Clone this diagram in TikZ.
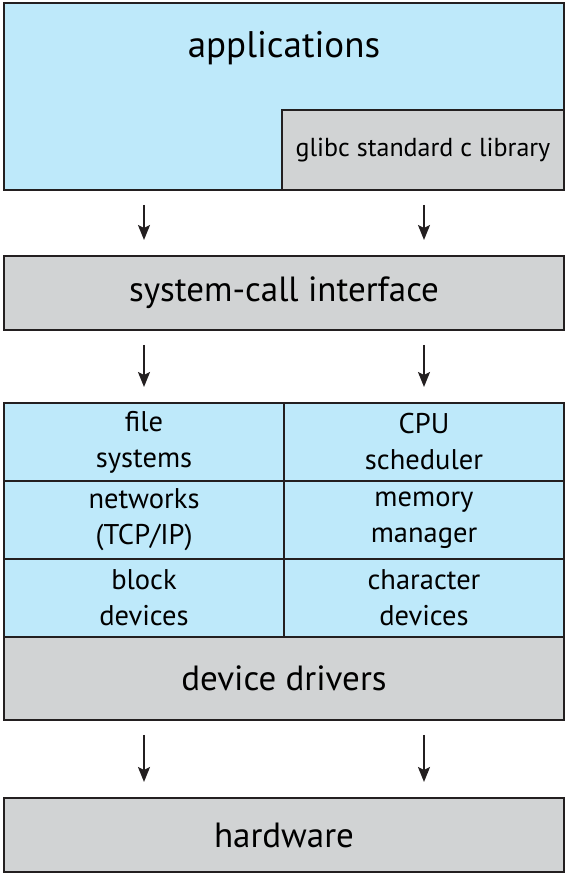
\documentclass[tikz,border=0pt]{standalone}
\usepackage{fontspec}
\setmainfont{PT Sans}
\usetikzlibrary{positioning,calc,arrows.meta}
\definecolor{kblue}{RGB}{190,233,250}
\definecolor{kgray}{RGB}{209,211,212}
\definecolor{kline}{RGB}{35,31,32}

\begin{document}
\begin{tikzpicture}[x = 1pt, y = 1pt, line width = 1.8pt,
  layer/.style = {draw = kline, outer sep = 0pt, inner sep = 0pt, minimum width = 560pt},
  user/.style = {layer, fill = kblue},
  sys/.style = {layer, fill = kgray, font = \fontsize{35}{40}\selectfont},
  cell/.style = {draw = kline, fill = kblue, outer sep = 0pt, minimum width = 280pt, minimum height = 78pt, align = center, font = \fontsize{28.5}{36}\selectfont},
  down/.style = {-{Stealth[length = 15pt, width = 12pt, inset = 3pt]}, draw = kline, line width = 2pt, shorten <= 15pt, shorten >= 16pt}]
\useasboundingbox (0,0) rectangle (568,876);

\node[user, minimum height = 187pt] (app) at (284,779.5) {};
\node[draw = kline, fill = kgray, outer sep = 0pt, minimum width = 282pt, minimum height = 80pt, anchor = south east, font = \fontsize{26}{30}\selectfont] (glibc) at (app.south east) {glibc standard c library};
\node[font = \fontsize{37}{42}\selectfont] (apptext) at (284,828) {applications};

\node[sys, minimum height = 74pt] (sci) at (284,583) {system-call interface};

\node[cell] (fs) at (144,434) {file\\systems};
\node[cell, right = 0pt of fs] (cpu) {CPU\\scheduler};
\node[cell, below = 0pt of fs] (net) {networks\\(TCP/IP)};
\node[cell, below = 0pt of cpu] (mem) {memory\\manager};
\node[cell, below = 0pt of net] (blk) {block\\devices};
\node[cell, below = 0pt of mem] (chr) {character\\devices};
\node[sys, minimum height = 83pt, below = 0pt of blk.south east] (drv) {device drivers};

\node[sys, minimum height = 74pt] (hw) at (284,41) {hardware};

\foreach \f in {.25,.75} {
  \draw[down] ($(app.south west)!\f!(app.south east)$) -- ($(sci.north west)!\f!(sci.north east)$);
  \draw[down] ($(sci.south west)!\f!(sci.south east)$) -- ($(fs.north west)!\f!(cpu.north east)$);
  \draw[down] ($(drv.south west)!\f!(drv.south east)$) -- ($(hw.north west)!\f!(hw.north east)$);
}
\end{tikzpicture}
\end{document}
